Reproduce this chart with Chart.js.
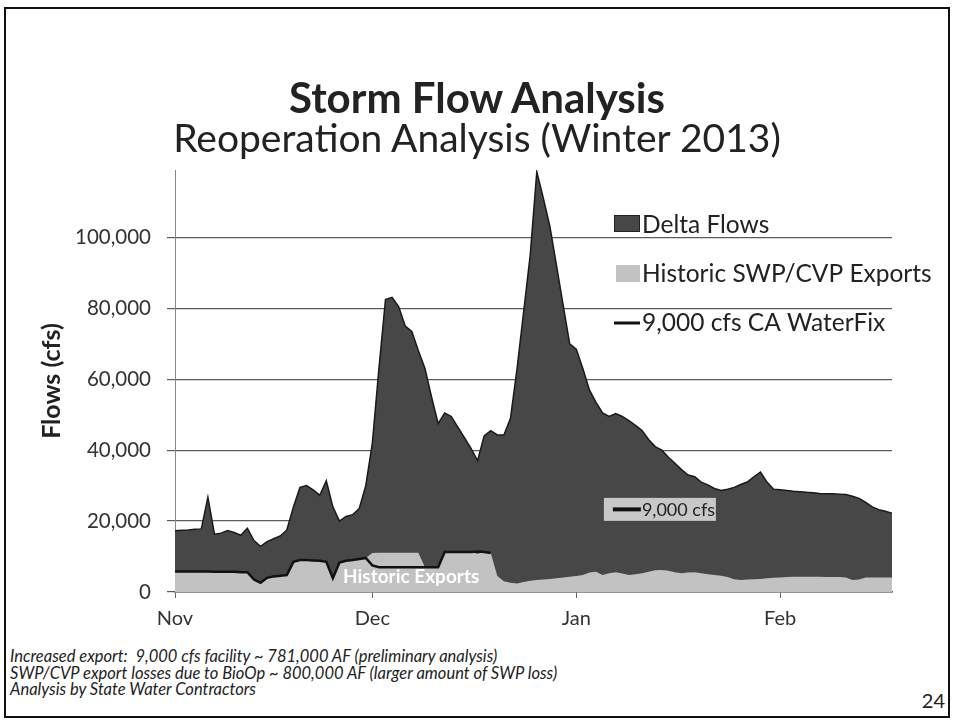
<!DOCTYPE html>
<html>
<head>
<meta charset="utf-8">
<script src="https://cdn.jsdelivr.net/npm/chart.js@4.4.0/dist/chart.umd.min.js"></script>
<style>
  html, body { margin: 0; padding: 0; background: #fff; }
  body { width: 954px; height: 724px; position: relative; overflow: hidden; font-family: Lato, "Open Sans", sans-serif; color: #222; }
  #frame { position: absolute; left: 4px; top: 7px; width: 942px; height: 707px; border: 2px solid #111; }
  #title { position: absolute; top: 74px; left: 0; width: 954px; text-align: center; font-weight: bold; font-size: 42px; line-height: 46px; }
  #subtitle { position: absolute; top: 115px; left: 0; width: 954px; text-align: center; font-size: 39px; line-height: 44px; }
  #chartBox { position: absolute; left: 0; top: 0; width: 954px; height: 640px; }
  #notes { position: absolute; left: 10px; top: 648px; font-style: italic; font-size: 16.5px; line-height: 16.5px; }
  #page { position: absolute; right: 9px; top: 689px; font-size: 20px; line-height: 22px; }
</style>
</head>
<body>
<div id="frame"></div>
<div id="chartBox"><canvas id="chart" width="954" height="640"></canvas></div>
<div id="title">Storm Flow Analysis</div>
<div id="subtitle">Reoperation Analysis (Winter 2013)</div>
<div id="notes">
  Increased export:&nbsp; 9,000 cfs facility ~ 781,000 AF (preliminary analysis)<br>
  SWP/CVP export losses due to BioOp ~ 800,000 AF (larger amount of SWP loss)<br>
  Analysis by State Water Contractors
</div>
<div id="page">24</div>
<script>
  "use strict";

  // x axis: day 0 = Nov 1
  const monthStarts = [0, 30, 61, 92];
  const monthLabels = ["Nov", "Dec", "Jan", "Feb"];
  const yTicks = [0, 20000, 40000, 60000, 80000, 100000];

  // daily values, Nov 1 .. Feb 17 (cfs)
  const deltaFlows = [
    17300, 17400, 17500, 17700, 17800, 26700, 16300, 16600, 17300, 16800,
    16000, 18000, 14500, 12900, 14200, 15000, 15800, 17500, 24000, 29500,
    30000, 28800, 27300, 31400, 24000, 20000, 21300, 21800, 23500, 30000,
    42000, 63000, 82500, 83100, 80500, 75000, 73500, 68000, 63000, 55000,
    47500, 50500, 49500, 46500, 43500, 40500, 37000, 44000, 45500, 44300,
    44300, 49000, 63000, 79000, 95000, 118500, 111000, 103000, 92000, 81000,
    70000, 68500, 63000, 57000, 53500, 50500, 49500, 50300, 49500, 48300,
    47000, 45500, 43000, 41000, 40000, 38000, 36300, 34500, 33000, 32500,
    31000, 30200, 29200, 28600, 29000, 29500, 30300, 31000, 32500, 33800,
    31000, 29000, 28800, 28600, 28400, 28300, 28100, 28000, 27800, 27700,
    27700, 27600, 27500, 27000, 26400, 25300, 24000, 23200, 22800, 22200
  ];

  const historicExports = [
    5800, 5800, 5800, 5800, 5800, 5800, 5700, 5700, 5700, 5700,
    5600, 5600, 3500, 2600, 4000, 4400, 4600, 4800, 8500, 9000,
    9000, 8900, 8800, 8500, 3900, 8300, 8800, 9000, 9300, 9600,
    11000, 11100, 11100, 11100, 11100, 11100, 11100, 11100, 7000, 7000,
    7000, 11300, 11300, 11300, 11300, 11300, 10800, 11300, 11000, 4500,
    3000, 2600, 2400, 2800, 3200, 3400, 3500, 3700, 3900, 4100,
    4300, 4500, 4800, 5500, 5700, 4800, 5300, 5600, 5200, 4800,
    5000, 5300, 5700, 6100, 6200, 6000, 5600, 5300, 5500, 5600,
    5300, 5000, 4800, 4600, 4200, 3600, 3400, 3500, 3600, 3700,
    3900, 4000, 4100, 4200, 4300, 4300, 4300, 4300, 4300, 4200,
    4200, 4200, 4100, 3400, 3500, 4100, 4100, 4100, 4100, 4100
  ];

  const waterFix = [
    5800, 5800, 5800, 5800, 5800, 5800, 5700, 5700, 5700, 5700,
    5600, 5600, 3500, 2600, 4000, 4400, 4600, 4800, 8500, 9000,
    9000, 8900, 8800, 8500, 3900, 8300, 8800, 9000, 9300, 9600,
    7500, 7000, 7000, 7000, 7000, 7000, 7000, 7000, 7000, 7000,
    7000, 11300, 11300, 11300, 11300, 11300, 11400, 11300, 11000
  ];

  const days = deltaFlows.map((v, i) => i);

  Chart.defaults.font.family = "Lato, 'Open Sans', sans-serif";
  Chart.defaults.color = "#333";

  const overlay = {
    id: "overlay",
    afterDatasetsDraw(chart) {
      const ctx = chart.ctx;
      const { x, y } = chart.scales;
      const ds = chart.data.datasets;
      ctx.save();

      // legend
      ctx.font = "24.5px Lato";
      ctx.textBaseline = "middle";
      ctx.textAlign = "left";
      ctx.fillStyle = ds[0].backgroundColor;
      ctx.fillRect(614, 215, 26, 17);
      ctx.strokeStyle = "#222";
      ctx.lineWidth = 1;
      ctx.strokeRect(614.5, 215.5, 25, 16);
      ctx.fillStyle = ds[1].backgroundColor;
      ctx.fillRect(616, 265, 24, 17);
      ctx.strokeStyle = ds[2].borderColor;
      ctx.lineWidth = 3;
      ctx.beginPath();
      ctx.moveTo(614, 323);
      ctx.lineTo(640, 323);
      ctx.stroke();
      ctx.fillStyle = "#222";
      ctx.fillText(ds[0].label, 642, 225);
      ctx.fillText(ds[1].label, 642, 274);
      ctx.fillText(ds[2].label, 642, 323);

      // "Historic Exports" label in the grey area
      ctx.font = "bold 19px Lato";
      ctx.fillStyle = "#fff";
      ctx.textAlign = "center";
      ctx.fillText("Historic Exports", x.getPixelForValue(35.9), y.getPixelForValue(4200));

      // "9,000 cfs" tag
      const tx = x.getPixelForValue(65.2);
      const ty = y.getPixelForValue(23300);
      ctx.fillStyle = "#c8c8c8";
      ctx.fillRect(tx, ty - 11.5, 112, 23);
      ctx.strokeStyle = "#111";
      ctx.lineWidth = 4;
      ctx.beginPath();
      ctx.moveTo(tx + 9, ty);
      ctx.lineTo(tx + 37, ty);
      ctx.stroke();
      ctx.font = "18px Lato";
      ctx.fillStyle = "#222";
      ctx.textAlign = "left";
      ctx.fillText("9,000 cfs", tx + 38, ty + 1);

      ctx.restore();
    }
  };

  const ctx = document.getElementById("chart").getContext("2d");
  const myChart = new Chart(ctx, {
    type: "line",
    data: {
      labels: days,
      datasets: [
        {
          label: "Delta Flows",
          data: deltaFlows,
          order: 3,
          fill: "origin",
          backgroundColor: "#474747",
          borderColor: "#1a1a1a",
          borderWidth: 1.5,
          pointRadius: 0,
          tension: 0
        },
        {
          label: "Historic SWP/CVP Exports",
          data: historicExports,
          order: 2,
          fill: "origin",
          backgroundColor: "#c2c2c2",
          borderColor: "rgba(0,0,0,0)",
          borderWidth: 0,
          pointRadius: 0,
          tension: 0
        },
        {
          label: "9,000 cfs CA WaterFix",
          data: waterFix,
          order: 1,
          fill: false,
          borderColor: "#111",
          borderWidth: 2.5,
          pointRadius: 0,
          tension: 0
        }
      ]
    },
    options: {
      responsive: false,
      animation: false,
      devicePixelRatio: 1,
      layout: { padding: { top: 170, left: 0, right: 62, bottom: 0 } },
      plugins: {
        legend: { display: false },
        tooltip: { enabled: false }
      },
      scales: {
        x: {
          type: "linear",
          min: 0,
          max: 109,
          afterBuildTicks: (axis) => {
            axis.ticks = monthStarts.map((v) => ({ value: v }));
          },
          afterFit: (axis) => {
            axis.height = 48;
          },
          ticks: {
            autoSkip: false,
            maxRotation: 0,
            padding: 9,
            font: { size: 20 },
            callback: (value) => monthLabels[monthStarts.indexOf(value)]
          },
          grid: { drawOnChartArea: false, tickLength: 6, color: "#666" },
          border: { color: "#555", width: 1.5 }
        },
        y: {
          min: 0,
          max: 119000,
          afterBuildTicks: (axis) => {
            axis.ticks = yTicks.map((v) => ({ value: v }));
          },
          afterFit: (axis) => {
            axis.width = 175;
          },
          ticks: {
            padding: 16,
            font: { size: 20.5 },
            callback: (value) => value.toLocaleString("en-US")
          },
          grid: { color: "#5c5c5c", lineWidth: 1.2, tickLength: 8 },
          border: { color: "#888", width: 1 },
          title: {
            display: true,
            text: "Flows (cfs)",
            font: { size: 25, weight: "bold" },
            color: "#222",
            padding: { top: 37, bottom: 0 }
          }
        }
      }
    },
    plugins: [overlay]
  });
</script>
</body>
</html>
